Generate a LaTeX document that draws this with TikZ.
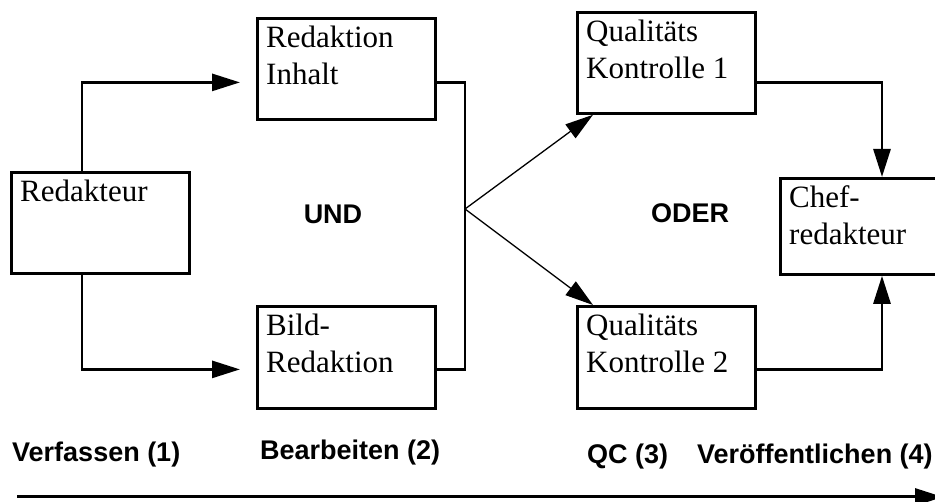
\documentclass[tikz,border=0pt]{standalone}
\usepackage{fontspec}
\setmainfont{Liberation Serif}
\newfontfamily\lsans{Liberation Sans}
\usetikzlibrary{arrows.meta}
\newcommand\twoline[2]{\vtop{\hbox{#1}\hbox{#2}}}
\begin{document}
\begin{tikzpicture}[x=1pt,y=-1pt,
  box/.style={draw, line width=2.8pt, minimum width=178pt, inner sep=0pt, anchor=north west},
  txt/.style={font=\fontsize{31}{37}\selectfont, inner sep=0pt, anchor=base west},
  lbl/.style={font=\lsans\bfseries\fontsize{27}{31}\selectfont, inner sep=0pt},
  conn/.style={line width=2.8pt},
  thinconn/.style={line width=1.3pt},
  tip/.style={-{Triangle[length=28pt,width=17pt]}}
]
\useasboundingbox (0,0) rectangle (935,502);

% boxes
\node[box, minimum height=101pt] (red)  at (10,171)  {};
\node[box, minimum height=101pt] (ri)   at (256,17)  {};
\node[box, minimum height=102pt] (br)   at (256,305) {};
\node[box, minimum height=101pt] (q1)   at (576,11)  {};
\node[box, minimum height=102pt] (q2)   at (576,305) {};
\node[box, minimum height=96pt]  (chef) at (779,177) {};

% box texts
\node[txt] (redt)  at ([shift={(10pt,-30.5pt)}]red.north west)  {Redakteur};
\node[txt] (rit)   at ([shift={(10pt,-30.5pt)}]ri.north west)   {\twoline{Redaktion}{Inhalt}};
\node[txt] (brt)   at ([shift={(10pt,-30.5pt)}]br.north west)   {\twoline{Bild-}{Redaktion}};
\node[txt] (q1t)   at ([shift={(10pt,-30.5pt)}]q1.north west)   {\twoline{Qualitäts}{Kontrolle 1}};
\node[txt] (q2t)   at ([shift={(10pt,-30.5pt)}]q2.north west)   {\twoline{Qualitäts}{Kontrolle 2}};
\node[txt] (cheft) at ([shift={(10pt,-30.5pt)}]chef.north west) {\twoline{Chef-}{redakteur}};

% junction
\coordinate (j) at (465,209);

% connectors
\draw[conn, tip, shorten >=16pt] ([xshift=72pt]red.north west) |- ([yshift=-13.5pt]ri.west);
\draw[conn, tip, shorten >=16pt] ([xshift=72pt]red.south west) |- ([yshift=-12pt]br.west);
\draw[conn] ([yshift=-13.5pt]ri.east) -| (j) |- ([yshift=-12pt]br.east);
\draw[thinconn, tip] (j) -- ([xshift=17pt]q1.south west);
\draw[thinconn, tip] (j) -- ([xshift=17pt]q2.north west);
\draw[conn, tip] ([yshift=-19.5pt]q1.east) -| ([xshift=103pt]chef.north west);
\draw[conn, tip] ([yshift=-12pt]q2.east) -| ([xshift=103pt]chef.south west);

% middle labels
\node[lbl] (und)  at (333,214) {UND};
\node[lbl] (oder) at (690,213) {ODER};

% phase labels
\node[lbl, anchor=base west] (p1) at (12,462)  {Verfassen (1)};
\node[lbl, anchor=base west] (p2) at (260,460) {Bearbeiten (2)};
\node[lbl, anchor=base west] (p3) at (587,464) {QC (3)};
\node[lbl, anchor=base west] (p4) at (697,464) {Veröffentlichen (4)};

% timeline arrow
\coordinate (t0) at (17,497);
\coordinate (t1) at (943,497);
\draw[line width=3pt, -{Triangle[length=28pt,width=17pt]}] (t0) -- (t1);
\end{tikzpicture}
\end{document}
